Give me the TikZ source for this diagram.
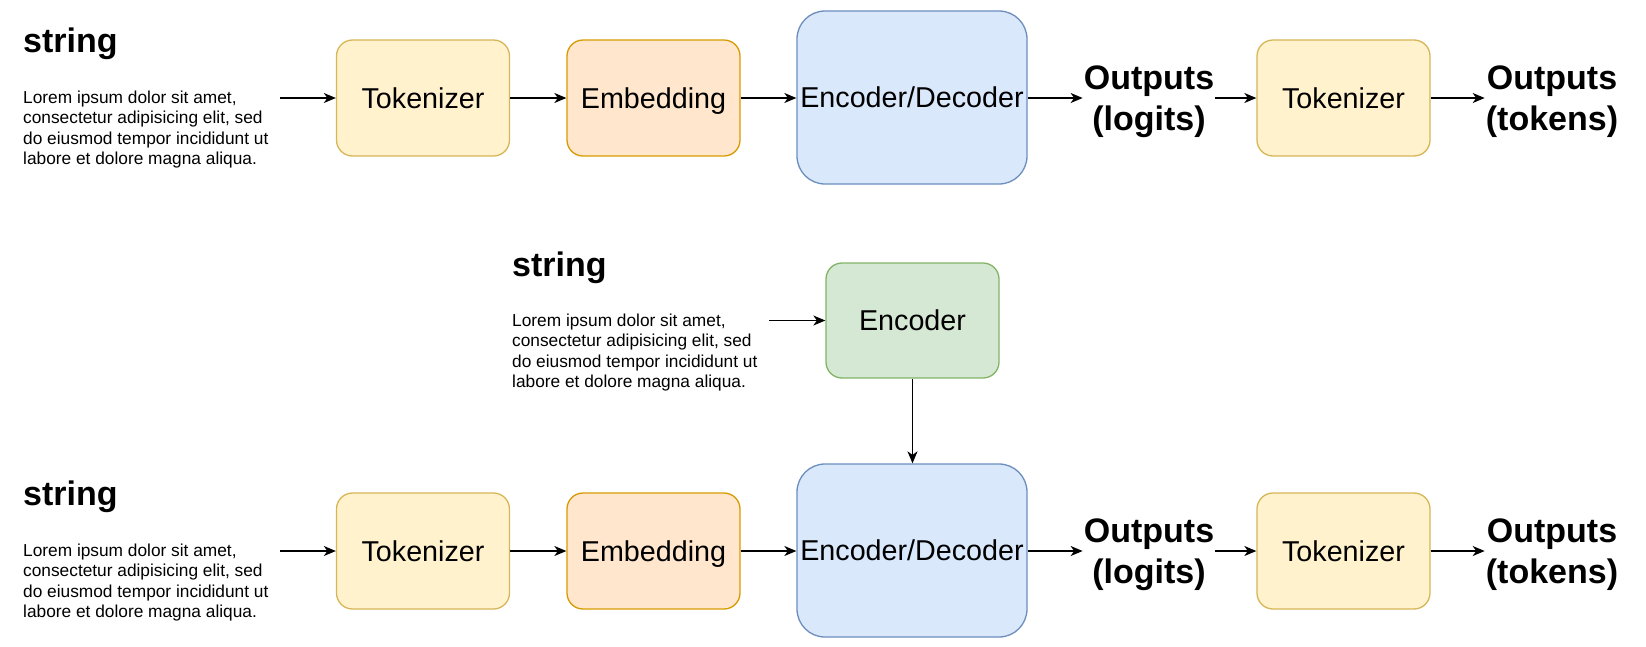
\documentclass[tikz,border=0pt]{standalone}
\usepackage{fontspec}
\setmainfont{Liberation Sans}
\usetikzlibrary{arrows.meta}
\definecolor{yelF}{HTML}{FFF2CC}\definecolor{yelD}{HTML}{D6B656}
\definecolor{oraF}{HTML}{FFE6CC}\definecolor{oraD}{HTML}{D79B00}
\definecolor{bluF}{HTML}{DAE8FC}\definecolor{bluD}{HTML}{6C8EBF}
\definecolor{grnF}{HTML}{D5E8D4}\definecolor{grnD}{HTML}{82B366}
\begin{document}
\begin{tikzpicture}[x=1pt,y=-1pt,
  box/.style={draw, rounded corners=16pt, line width=1.3pt, minimum width=173pt,
    minimum height=116pt, inner sep=0pt, font=\fontsize{28.7}{34.4}\selectfont,
    text height=20.5pt, text depth=0pt},
  tokbox/.style={box, fill=yelF, draw=yelD},
  embbox/.style={box, fill=oraF, draw=oraD},
  edbox/.style={box, fill=bluF, draw=bluD, minimum width=230pt, minimum height=173pt, rounded corners=28pt},
  encbox/.style={box, fill=grnF, draw=grnD, minimum height=115pt},
  heading/.style={anchor=base west, inner sep=0pt, font=\fontsize{34}{40.8}\selectfont\bfseries},
  lorem/.style={anchor=north west, inner sep=0pt, align=left, font=\fontsize{17.3}{20.4}\selectfont},
  outlbl/.style={inner sep=1pt, align=center, font=\fontsize{34}{40.8}\selectfont\bfseries},
  arr/.style={-{Stealth[length=12pt,width=10pt,inset=3.5pt]}, line width=1.3pt}
]
\useasboundingbox (0,0) rectangle (1646,646);

% ---------- top row ----------
\node[heading] (h1) at (23,52) {string};
\node[lorem] (l1) at (23,90.5) {Lorem ipsum dolor sit amet,\\consectetur adipisicing elit, sed\\do eiusmod tempor incididunt ut\\labore et dolore magna aliqua.};
\coordinate (s1) at (280,98);
\node[tokbox] (tk1) at (423,98) {Tokenizer};
\node[embbox] (em1) at (653.5,98) {Embedding};
\node[edbox] (ed1) at (912,97.5) {Encoder/Decoder};
\node[outlbl] (ol1) at (1149,102) {Outputs\\(logits)};
\node[tokbox] (tt1) at (1343.5,98) {Tokenizer};
\node[outlbl] (ot1) at (1552,102) {Outputs\\(tokens)};
\draw[arr] (s1) -- (tk1.west);
\draw[arr] (tk1.east) -- (em1.west);
\draw[arr] (em1.east) -- (ed1.west |- em1.east);
\draw[arr] (ed1.east |- tt1.west) -- (tt1.west -| ol1.west);
\draw[arr] (tt1.west -| ol1.east) -- (tt1.west);
\draw[arr] (tt1.east) -- (tt1.east -| ot1.west);

% ---------- middle ----------
\node[heading] (h2) at (512,276) {string};
\node[lorem] (l2) at (512,313.5) {Lorem ipsum dolor sit amet,\\consectetur adipisicing elit, sed\\do eiusmod tempor incididunt ut\\labore et dolore magna aliqua.};
\coordinate (s2) at (769,320.5);
\node[encbox] (enc) at (912.5,320.5) {Encoder};
\draw[arr] (s2) -- (enc.west);

% ---------- bottom row ----------
\node[heading] (h3) at (23,505) {string};
\node[lorem] (l3) at (23,543.5) {Lorem ipsum dolor sit amet,\\consectetur adipisicing elit, sed\\do eiusmod tempor incididunt ut\\labore et dolore magna aliqua.};
\coordinate (s3) at (280,551);
\node[tokbox] (tk3) at (423,551) {Tokenizer};
\node[embbox] (em3) at (653.5,551) {Embedding};
\node[edbox] (ed3) at (912,550.5) {Encoder/Decoder};
\node[outlbl] (ol3) at (1149,555) {Outputs\\(logits)};
\node[tokbox] (tt3) at (1343.5,551) {Tokenizer};
\node[outlbl] (ot3) at (1552,555) {Outputs\\(tokens)};
\draw[arr] (s3) -- (tk3.west);
\draw[arr] (tk3.east) -- (em3.west);
\draw[arr] (em3.east) -- (ed3.west |- em3.east);
\draw[arr] (ed3.east |- tt3.west) -- (tt3.west -| ol3.west);
\draw[arr] (tt3.west -| ol3.east) -- (tt3.west);
\draw[arr] (tt3.east) -- (tt3.east -| ot3.west);

\draw[arr] (enc.south) -- (enc.south |- ed3.north);
\end{tikzpicture}
\end{document}
